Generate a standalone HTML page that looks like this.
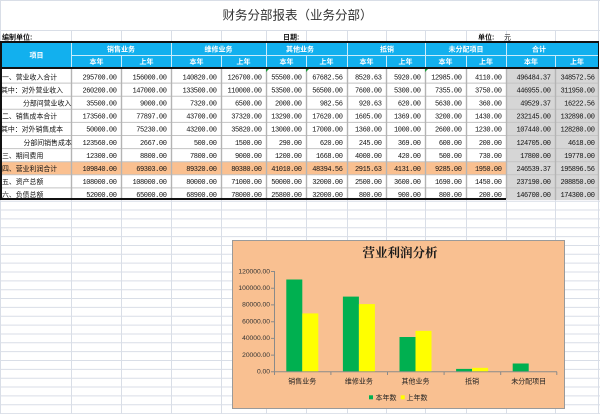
<!DOCTYPE html>
<html>
<head>
<meta charset="utf-8">
<style>
html,body{margin:0;padding:0;background:#fff;}
svg{display:block;}
.cj{font-family:"Liberation Sans","Noto Sans CJK SC",sans-serif;}
.num{font-family:"Liberation Mono",monospace;font-size:7px;letter-spacing:-0.42px;fill:#111;}
</style>
</head>
<body>
<svg width="600" height="414" viewBox="0 0 600 414" xmlns="http://www.w3.org/2000/svg">
<rect x="0" y="0" width="600" height="414" fill="#fff"/>
<!-- background grid -->
<g stroke="#d9dee7" stroke-width="1" fill="none">
<path d="M0 0.5H600M0 30.5H600"/>
<path d="M0.5 0V414M598.5 0V30"/>
<path d="M71.5 30V414M121.5 30V414M171.5 30V414M221.5 30V414M266.5 30V414M306.5 30V414M347.5 30V414M386.5 30V414M425.5 30V414M466.5 30V414M506.5 30V414M555.5 30V414M598.5 30V414"/>
<path d="M0 201.2H600M0 210.05H600M0 218.9H600M0 227.75H600M0 236.6H600M0 245.45H600M0 254.3H600M0 263.15H600M0 272H600M0 280.85H600M0 289.7H600M0 298.55H600M0 307.4H600M0 316.25H600M0 325.1H600M0 333.95H600M0 342.8H600M0 351.65H600M0 360.5H600M0 369.35H600M0 378.2H600M0 387.05H600M0 395.9H600M0 404.75H600M0 413.6H600"/>
</g>

<!-- title -->
<text x="297.5" y="19.5" text-anchor="middle" class="cj" font-size="12.5" fill="#333">财务分部报表（业务分部）</text>
<g class="cj" font-size="7" font-weight="bold" fill="#111">
<text x="2" y="39.5">编制单位:</text>
<text x="283" y="39.5">日期:</text>
<text x="478" y="39.5">单位:</text>
<text x="504" y="39.5" font-weight="normal">元</text>
</g>

<!-- header -->
<rect x="0" y="42" width="599" height="26" fill="#12b0ee"/>
<g stroke="#c8ecfb" stroke-width="1">
<path d="M71.5 43V67M171.5 43V67M266.5 43V67M347.5 43V67M425.5 43V67M506.5 43V67"/>
<path d="M121.5 55V67M221.5 55V67M306.5 55V67M386.5 55V67M466.5 55V67M555.5 55V67"/>
<path d="M71 55.5H599"/>
</g>
<g class="cj" font-size="7" font-weight="bold" fill="#fff" text-anchor="middle">
<text x="36.5" y="57.5">项目</text>
<text x="121" y="51.3">销售业务</text>
<text x="218.5" y="51.3">维修业务</text>
<text x="300" y="51.3">其他业务</text>
<text x="387" y="51.3">抵销</text>
<text x="466" y="51.3">未分配项目</text>
<text x="539" y="51.3">合计</text>
<text x="96.5" y="63.8">本年</text>
<text x="146.5" y="63.8">上年</text>
<text x="196.5" y="63.8">本年</text>
<text x="243.5" y="63.8">上年</text>
<text x="286.5" y="63.8">本年</text>
<text x="326.5" y="63.8">上年</text>
<text x="366.5" y="63.8">本年</text>
<text x="405.5" y="63.8">上年</text>
<text x="445.5" y="63.8">本年</text>
<text x="486" y="63.8">上年</text>
<text x="531" y="63.8">本年</text>
<text x="577" y="63.8">上年</text>
</g>

<!-- data backgrounds -->
<rect x="0" y="69" width="506" height="130" fill="#fff"/>
<rect x="506" y="69" width="93" height="131" fill="#d6d6d6"/>
<rect x="0" y="161.7" width="506" height="13.1" fill="#fac090"/>

<!-- data grid -->
<g stroke="#c4c4c4" stroke-width="1">
<path d="M0 83.1H599M0 96.2H599M0 109.3H599M0 122.4H599M0 135.5H599M0 148.6H599M0 161.7H599M0 174.8H599M0 187.9H599"/>
</g>
<g stroke="#b4b4b4" stroke-width="1.4">
<path d="M71.5 69V199M121.5 69V199M171.5 69V199M221.5 69V199M266.5 69V199M306.5 69V199M347.5 69V199M386.5 69V199M425.5 69V199M466.5 69V199M506.5 69V199M555.5 69V200M598.5 69V200"/>
</g>

<!-- thick borders -->
<g stroke="#111" fill="none">
<path d="M0 42H599" stroke-width="2"/>
<path d="M0 68H599" stroke-width="2"/>
<path d="M0 199H506" stroke-width="2"/>
<path d="M1 41V200" stroke-width="2"/>
<path d="M598.5 41V69" stroke-width="1"/>
</g>
<!-- green triangles -->
<g fill="#1e9e3a">
<path d="M266 69h3l-3 3z"/>
<path d="M306 69h3l-3 3z"/>
<path d="M425 69h3l-3 3z"/>
</g>

<!-- row labels -->
<g class="cj" font-size="6.9" fill="#111">
<text x="2" y="79.3">一、营业收入合计</text>
<text x="1" y="92.4">其中：对外营业收入</text>
<text x="23" y="105.5">分部间营业收入</text>
<text x="2" y="118.6">二、销售成本合计</text>
<text x="1" y="131.7">其中：对外销售成本</text>
<text x="23.5" y="144.8">分部间销售成本</text>
<text x="2" y="157.9">三、期间费用</text>
<text x="2" y="171">四、营业利润合计</text>
<text x="2" y="184.1">五、资产总额</text>
<text x="2" y="197.2">六、负债总额</text>
</g>

<!-- numbers -->
<g class="num" text-anchor="end">
<text x="116.5" y="79.3">295700.00</text><text x="166.5" y="79.3">156000.00</text><text x="216.5" y="79.3">140820.00</text><text x="261.5" y="79.3">126700.00</text><text x="301.5" y="79.3">55500.00</text><text x="342.5" y="79.3">67682.56</text><text x="381.5" y="79.3">8520.63</text><text x="420.5" y="79.3">5920.00</text><text x="461.5" y="79.3">12985.00</text><text x="501.5" y="79.3">4110.00</text><text x="550.5" y="79.3">496484.37</text><text x="594.5" y="79.3">348572.56</text>

<text x="116.5" y="92.4">260200.00</text><text x="166.5" y="92.4">147000.00</text><text x="216.5" y="92.4">133500.00</text><text x="261.5" y="92.4">110000.00</text><text x="301.5" y="92.4">53500.00</text><text x="342.5" y="92.4">56500.00</text><text x="381.5" y="92.4">7600.00</text><text x="420.5" y="92.4">5300.00</text><text x="461.5" y="92.4">7355.00</text><text x="501.5" y="92.4">3750.00</text><text x="550.5" y="92.4">446955.00</text><text x="594.5" y="92.4">311950.00</text>

<text x="116.5" y="105.5">35500.00</text><text x="166.5" y="105.5">9000.00</text><text x="216.5" y="105.5">7320.00</text><text x="261.5" y="105.5">6500.00</text><text x="301.5" y="105.5">2000.00</text><text x="342.5" y="105.5">982.56</text><text x="381.5" y="105.5">920.63</text><text x="420.5" y="105.5">620.00</text><text x="461.5" y="105.5">5630.00</text><text x="501.5" y="105.5">360.00</text><text x="550.5" y="105.5">49529.37</text><text x="594.5" y="105.5">16222.56</text>

<text x="116.5" y="118.6">173560.00</text><text x="166.5" y="118.6">77897.00</text><text x="216.5" y="118.6">43700.00</text><text x="261.5" y="118.6">37320.00</text><text x="301.5" y="118.6">13290.00</text><text x="342.5" y="118.6">17620.00</text><text x="381.5" y="118.6">1605.00</text><text x="420.5" y="118.6">1369.00</text><text x="461.5" y="118.6">3200.00</text><text x="501.5" y="118.6">1430.00</text><text x="550.5" y="118.6">232145.00</text><text x="594.5" y="118.6">132898.00</text>

<text x="116.5" y="131.7">50000.00</text><text x="166.5" y="131.7">75230.00</text><text x="216.5" y="131.7">43200.00</text><text x="261.5" y="131.7">35820.00</text><text x="301.5" y="131.7">13000.00</text><text x="342.5" y="131.7">17000.00</text><text x="381.5" y="131.7">1360.00</text><text x="420.5" y="131.7">1000.00</text><text x="461.5" y="131.7">2600.00</text><text x="501.5" y="131.7">1230.00</text><text x="550.5" y="131.7">107440.00</text><text x="594.5" y="131.7">128280.00</text>

<text x="116.5" y="144.8">123560.00</text><text x="166.5" y="144.8">2667.00</text><text x="216.5" y="144.8">500.00</text><text x="261.5" y="144.8">1500.00</text><text x="301.5" y="144.8">290.00</text><text x="342.5" y="144.8">620.00</text><text x="381.5" y="144.8">245.00</text><text x="420.5" y="144.8">369.00</text><text x="461.5" y="144.8">600.00</text><text x="501.5" y="144.8">200.00</text><text x="550.5" y="144.8">124705.00</text><text x="594.5" y="144.8">4618.00</text>

<text x="116.5" y="157.9">12300.00</text><text x="166.5" y="157.9">8800.00</text><text x="216.5" y="157.9">7800.00</text><text x="261.5" y="157.9">9000.00</text><text x="301.5" y="157.9">1200.00</text><text x="342.5" y="157.9">1668.00</text><text x="381.5" y="157.9">4000.00</text><text x="420.5" y="157.9">420.00</text><text x="461.5" y="157.9">500.00</text><text x="501.5" y="157.9">730.00</text><text x="550.5" y="157.9">17800.00</text><text x="594.5" y="157.9">19778.00</text>

<text x="116.5" y="171">109840.00</text><text x="166.5" y="171">69303.00</text><text x="216.5" y="171">89320.00</text><text x="261.5" y="171">80380.00</text><text x="301.5" y="171">41010.00</text><text x="342.5" y="171">48394.56</text><text x="381.5" y="171">2915.63</text><text x="420.5" y="171">4131.00</text><text x="461.5" y="171">9285.00</text><text x="501.5" y="171">1950.00</text><text x="550.5" y="171">246539.37</text><text x="594.5" y="171">195896.56</text>

<text x="116.5" y="184.1">108000.00</text><text x="166.5" y="184.1">108000.00</text><text x="216.5" y="184.1">80000.00</text><text x="261.5" y="184.1">71000.00</text><text x="301.5" y="184.1">50000.00</text><text x="342.5" y="184.1">32000.00</text><text x="381.5" y="184.1">2500.00</text><text x="420.5" y="184.1">3600.00</text><text x="461.5" y="184.1">1690.00</text><text x="501.5" y="184.1">1450.00</text><text x="550.5" y="184.1">237190.00</text><text x="594.5" y="184.1">208850.00</text>

<text x="116.5" y="197.2">52000.00</text><text x="166.5" y="197.2">65000.00</text><text x="216.5" y="197.2">68900.00</text><text x="261.5" y="197.2">78000.00</text><text x="301.5" y="197.2">25800.00</text><text x="342.5" y="197.2">32000.00</text><text x="381.5" y="197.2">800.00</text><text x="420.5" y="197.2">900.00</text><text x="461.5" y="197.2">800.00</text><text x="501.5" y="197.2">200.00</text><text x="550.5" y="197.2">146700.00</text><text x="594.5" y="197.2">174300.00</text>
</g>
<!-- re-draw bottom border above text -->
<path d="M0 199H506" stroke="#111" stroke-width="2"/>

<!-- chart -->
<rect x="232.5" y="240.5" width="332" height="168" fill="#f9c091" stroke="#9a9a9a" stroke-width="1"/>
<text x="400" y="257" text-anchor="middle" font-family="'Liberation Serif','Noto Serif CJK SC',serif" font-size="12.5" font-weight="bold" fill="#1a1a1a">营业利润分析</text>

<g font-family="'Liberation Sans',sans-serif" font-size="6.7" fill="#333" text-anchor="end">
<text x="270" y="273.3">120000.00</text>
<text x="270" y="290">100000.00</text>
<text x="270" y="306.7">80000.00</text>
<text x="270" y="323.5">60000.00</text>
<text x="270" y="340.2">40000.00</text>
<text x="270" y="356.9">20000.00</text>
<text x="270" y="373.6">0.00</text>
</g>
<g stroke="#8a8a8a" stroke-width="1" fill="none">
<path d="M274.5 271V371.8"/>
<path d="M271 271.5H274.5M271 288.2H274.5M271 304.9H274.5M271 321.7H274.5M271 338.4H274.5M271 355.1H274.5M271 371.8H274.5"/>
<path d="M274 371.8H557"/>
<path d="M274.5 371.8V375M330.9 371.8V375M387.5 371.8V375M444.1 371.8V375M500.7 371.8V375M556.8 371.8V375"/>
</g>

<!-- bars -->
<g>
<rect x="286.3" y="279.5" width="16" height="91.8" fill="#00b050"/>
<rect x="302.3" y="313.4" width="16" height="57.9" fill="#ffff00"/>
<rect x="342.9" y="296.6" width="16" height="74.7" fill="#00b050"/>
<rect x="358.9" y="304.1" width="16" height="67.2" fill="#ffff00"/>
<rect x="399.5" y="337" width="16" height="34.3" fill="#00b050"/>
<rect x="415.5" y="330.85" width="16" height="40.45" fill="#ffff00"/>
<rect x="456.1" y="368.9" width="16" height="2.4" fill="#00b050"/>
<rect x="472.1" y="367.85" width="16" height="3.45" fill="#ffff00"/>
<rect x="512.7" y="363.5" width="16" height="7.8" fill="#00b050"/>
</g>

<g class="cj" font-size="7" fill="#222" text-anchor="middle">
<text x="302.3" y="383.5">销售业务</text>
<text x="358.9" y="383.5">维修业务</text>
<text x="415.5" y="383.5">其他业务</text>
<text x="472.1" y="383.5">抵销</text>
<text x="528.7" y="383.5">未分配项目</text>
</g>

<!-- legend -->
<rect x="369" y="395.3" width="4" height="4" fill="#00b050"/>
<text x="375.5" y="399.8" class="cj" font-size="7" fill="#222">本年数</text>
<rect x="400.7" y="395.3" width="4" height="4" fill="#ffff00"/>
<text x="406.5" y="399.8" class="cj" font-size="7" fill="#222">上年数</text>
</svg>
</body>
</html>
